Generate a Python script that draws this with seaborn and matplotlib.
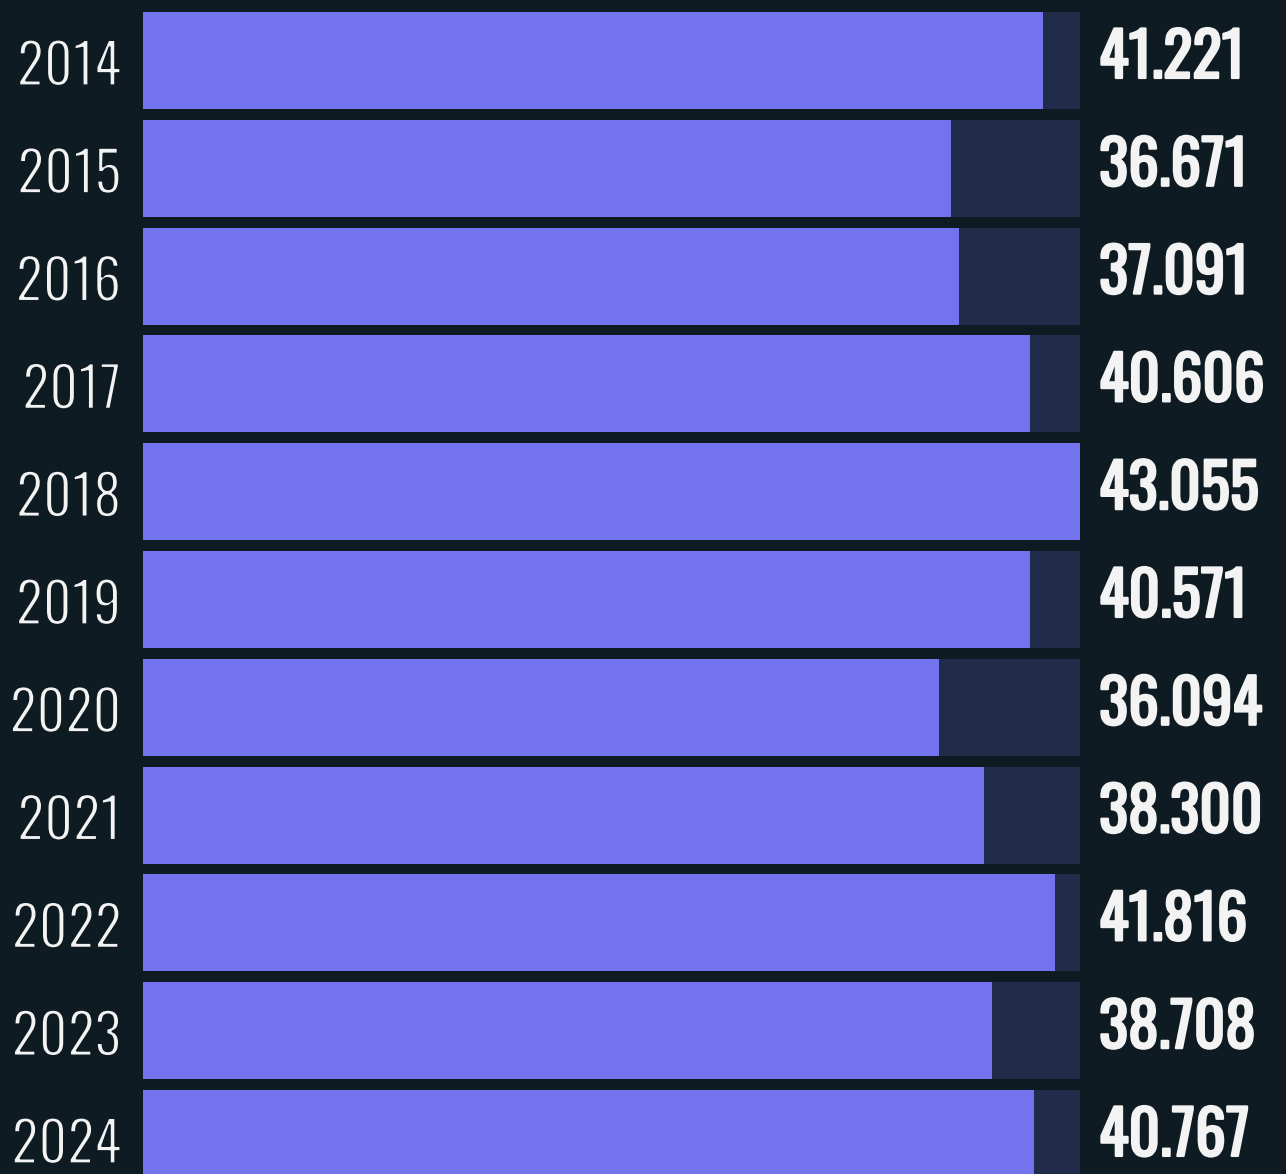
import matplotlib
matplotlib.use("Agg")
import matplotlib.pyplot as plt
import matplotlib.patheffects as pe
import pandas as pd
import seaborn as sns

# Annual totals
years = ["2014", "2015", "2016", "2017", "2018", "2019", "2020", "2021", "2022", "2023", "2024"]
values = [41.221, 36.671, 37.091, 40.606, 43.055, 40.571, 36.094, 38.300, 41.816, 38.708, 40.767]
labels = ["41.221", "36.671", "37.091", "40.606", "43.055", "40.571", "36.094", "38.300", "41.816", "38.708", "40.767"]

BG = "#0e1b22"
BAR = "#7373ee"
TRACK = "#212b4a"
INK = "#f3f3f3"

df = pd.DataFrame({"year": years, "value": values})
df["track"] = max(values)

sns.set_theme(style="white")
plt.rcParams["font.family"] = ["Oswald", "DejaVu Sans"]

W, H = 1286, 1174
fig = plt.figure(figsize=(W / 100, H / 100), dpi=100, facecolor=BG)
ax = fig.add_axes([143 / W, 0, 937 / W, 1])
ax.set_facecolor(BG)

# full-length track behind each bar, then the bar itself
sns.barplot(data=df, x="track", y="year", orient="h", color=TRACK,
            saturation=1, width=0.9, ax=ax, linewidth=0)
sns.barplot(data=df, x="value", y="year", orient="h", color=BAR,
            saturation=1, width=0.9, ax=ax, linewidth=0)

x0 = -3.3
ax.set_xlim(x0, max(values))
ax.set_ylim(10.33, -0.561)
# bars start at the left edge of the plotting area
for p in ax.patches:
    right = p.get_x() + p.get_width()
    p.set_x(x0)
    p.set_width(right - x0)

ax.set_axis_off()

# light year labels: outline in background colour trims the strokes
light = [pe.Normal(), pe.Stroke(linewidth=1.6, foreground=BG)]
# heavy value labels: outline in ink colour thickens the strokes
heavy = [pe.withStroke(linewidth=1.6, foreground=INK)]

for i, (yr, lab) in enumerate(zip(years, labels)):
    ax.annotate(yr, xy=(121, i), xycoords=("figure pixels", "data"),
                xytext=(0, -7), textcoords="offset pixels",
                ha="right", va="center", fontsize=40.5, color=INK,
                family=["Oswald", "DejaVu Sans"], path_effects=light)
    ax.annotate(lab, xy=(1099, i), xycoords=("figure pixels", "data"),
                xytext=(0, 2), textcoords="offset pixels",
                ha="left", va="center", fontsize=44, color=INK,
                family=["Oswald", "DejaVu Sans"], path_effects=heavy)

fig.savefig("out.png", facecolor=BG)
